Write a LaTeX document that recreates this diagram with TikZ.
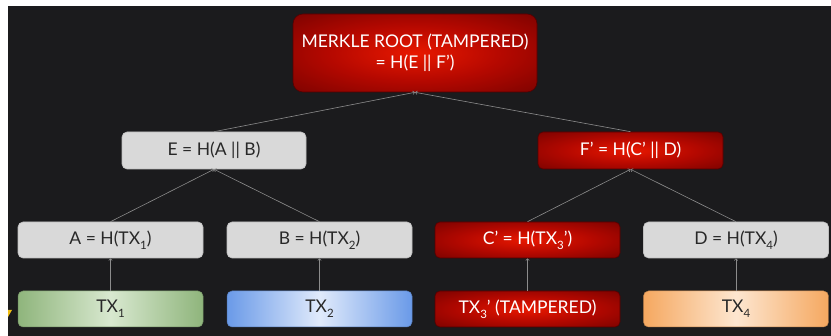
\documentclass[tikz,border=0pt]{standalone}
\usepackage{fontspec}
\setmainfont{Lato}
\usetikzlibrary{arrows.meta}
\definecolor{bgdark}{RGB}{27,27,29}
\definecolor{boxgray}{RGB}{217,217,217}
\definecolor{boxgrayline}{RGB}{190,190,190}
\definecolor{txtdark}{RGB}{40,40,40}
\definecolor{redin}{RGB}{232,24,0}
\definecolor{redmid}{RGB}{180,8,0}
\definecolor{redout}{RGB}{100,0,0}
\definecolor{redline}{RGB}{85,0,0}
\definecolor{edgegray}{RGB}{140,140,140}
\definecolor{greenedge}{RGB}{143,181,124}
\definecolor{greenmid}{RGB}{216,232,207}
\definecolor{blueedge}{RGB}{106,154,232}
\definecolor{bluemid}{RGB}{224,234,251}
\definecolor{orangeedge}{RGB}{245,168,96}
\definecolor{orangemid}{RGB}{253,230,208}
\definecolor{warnyellow}{RGB}{240,190,20}
\pgfdeclareradialshading{redglow}{\pgfpoint{0bp}{0bp}}{color(0bp)=(redin); color(18bp)=(redmid); color(44bp)=(redout); color(100bp)=(redout)}
\newcommand{\lsub}[1]{\raisebox{-0.6ex}{\fontsize{11.5}{11.5}\selectfont #1}}
\tikzset{
  box/.style={rectangle, rounded corners=5pt, minimum width=185pt, minimum height=36pt,
    inner sep=0pt, font=\fontsize{17.5}{21}\selectfont, align=center},
  graybox/.style={box, fill=boxgray, draw=boxgrayline, line width=0.6pt, text=txtdark},
  redbox/.style={box, shading=redglow, draw=redline, line width=0.6pt, text=white},
  greenbox/.style={box, left color=greenedge, right color=greenedge, middle color=greenmid, draw=greenedge!80!black, line width=0.5pt, text=txtdark},
  bluebox/.style={box, left color=blueedge, right color=blueedge, middle color=bluemid, draw=blueedge!80!black, line width=0.5pt, text=txtdark},
  orangebox/.style={box, left color=orangeedge, right color=orangeedge, middle color=orangemid, draw=orangeedge!80!black, line width=0.5pt, text=txtdark},
  edge/.style={draw=edgegray, line width=0.6pt, -{Straight Barb[length=1.8pt,width=3.5pt]}}
}
\begin{document}
\begin{tikzpicture}[x=1pt,y=-1pt]
\useasboundingbox (0,0) rectangle (831,336);
\fill[white] (0,0) rectangle (831,336);
\fill[bgdark] (8,6) rectangle (831,336);
\fill[warnyellow] (8,310) -- (12,310) -- (8,317) -- cycle;

\node[redbox, minimum width=244pt, minimum height=78pt, rounded corners=10pt] (root) at (415,53)
  {MERKLE ROOT (TAMPERED)\\= H(E || F')};
\node[graybox, minimum width=184pt, minimum height=37pt] (E) at (214,150.5) {E = H(A || B)};
\node[redbox, minimum height=37pt] (F) at (630.5,150.5) {F' = H(C' || D)};

\node[graybox] (A) at (110.5,240) {A = H(TX\lsub{1})};
\node[graybox] (B) at (319.5,240) {B = H(TX\lsub{2})};
\node[redbox] (C) at (527.5,240) {C' = H(TX\lsub{3}')};
\node[graybox] (D) at (736,240) {D = H(TX\lsub{4})};

\node[greenbox] (T1) at (110.5,309) {TX\lsub{1}};
\node[bluebox] (T2) at (319.5,309) {TX\lsub{2}};
\node[redbox] (T3) at (527.5,309) {TX\lsub{3}' (TAMPERED)};
\node[orangebox] (T4) at (736,309) {TX\lsub{4}};

\draw[edge] (E.north) -- (root.south);
\draw[edge] (F.north) -- (root.south);
\draw[edge] (A.north) -- (E.south);
\draw[edge] (B.north) -- (E.south);
\draw[edge] (C.north) -- (F.south);
\draw[edge] (D.north) -- (F.south);
\draw[edge] (T1.north) -- (A.south);
\draw[edge] (T2.north) -- (B.south);
\draw[edge] (T3.north) -- (C.south);
\draw[edge] (T4.north) -- (D.south);
\end{tikzpicture}
\end{document}
